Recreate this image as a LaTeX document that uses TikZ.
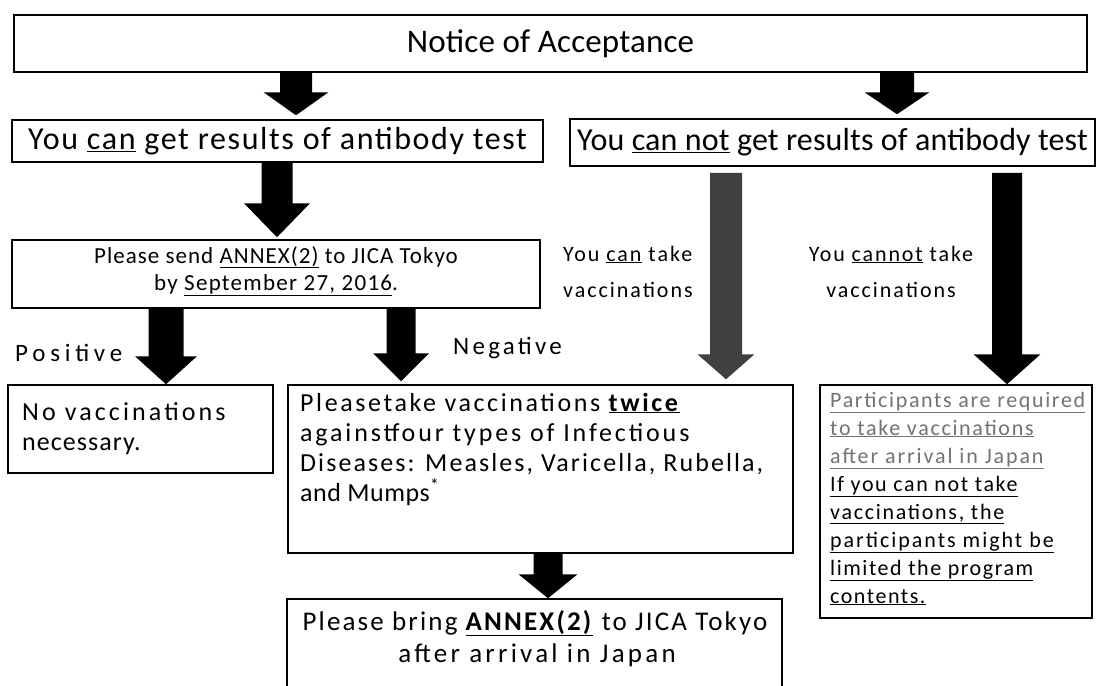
\documentclass[tikz,border=0pt]{standalone}
\usepackage{fontspec}
\setmainfont{Carlito}
\usetikzlibrary{calc}
\newcommand\ftx[3]{\fontsize{#1}{#1}\selectfont\addfontfeature{LetterSpace=#2}#3}
\newcommand\uln[1]{\underline{#1}}
\newcommand\barrow[6]{%
  \fill[#1] ($(#2)+(-#4,0)$) -- ($(#3)+(-#4,-#6)$) -- ($(#3)+(-#5,-#6)$) -- (#3)
    -- ($(#3)+(#5,-#6)$) -- ($(#3)+(#4,-#6)$) -- ($(#2)+(#4,0)$) -- cycle;}
\tikzset{
  pbox/.style={draw=black, line width=1.5pt, inner sep=0pt},
  lw/.style={anchor=base west, inner sep=0pt},
  lc/.style={anchor=base, inner sep=0pt},
}
\begin{document}
\begin{tikzpicture}[x=1pt,y=-1pt]
\useasboundingbox[fill=white] (0,0) rectangle (1097,685);
% boxes
\node[pbox, minimum width=1073, minimum height=57] (top) at (550.5,43.5)
  {\ftx{33}{0.5}{Notice of Acceptance}};
\node[pbox, minimum width=531, minimum height=42] (can) at (277.5,141)
  {\ftx{32}{5}{You \uln{can} get results of antibody test}};
\node[pbox, minimum width=525, minimum height=47] (cannot) at (832.5,142.5)
  {\ftx{32}{0.5}{You \uln{can not} get results of antibody test}};
\node[pbox, minimum width=528, minimum height=68] (send) at (276,274) {};
\node[pbox, minimum width=265, minimum height=88] (novac) at (140.5,429) {};
\node[pbox, minimum width=505, minimum height=168] (twice) at (540.5,469) {};
\node[pbox, minimum width=272, minimum height=233] (rbox) at (956,501.5) {};
\node[pbox, minimum width=495, minimum height=100] (bring) at (534.5,649) {};
% texts
\node[lc] (s1) at (276,263) {\ftx{23}{4.5}{Please send \uln{ANNEX(2)} to JICA Tokyo}};
\node[lc] (s2) at (276,290) {\ftx{23}{5.5}{by \uln{September 27, 2016}.}};
\node[lw] (pos) at (15,361) {\ftx{25}{19}{Positive}};
\node[lw] (neg) at (453,354) {\ftx{25}{13}{Negative}};
\node[lw] (n1) at (22,420) {\ftx{26}{12}{No vaccinations}};
\node[lw] (n2) at (22,450) {\ftx{26}{4}{necessary.}};
\node[lw] (t1) at (300,411) {\ftx{26}{10}{Pleasetake vaccinations \uln{\textbf{twice}}}};
\node[lw] (t2) at (300,441) {\ftx{26}{11}{againstfour types of Infectious}};
\node[lw] (t3) at (300,471) {\ftx{26}{8}{Diseases: Measles, Varicella, Rubella,}};
\node[lw] (t4) at (300,501) {\ftx{26}{2}{and Mumps\textsuperscript{*}}};
\node[lc] (b1) at (535,630) {\ftx{27}{8}{Please bring \uln{\textbf{ANNEX(2)}} to JICA Tokyo}};
\node[lc] (b2) at (537,662) {\ftx{27}{12}{after arrival in Japan}};
\node[lw] (ct1) at (563,261) {\ftx{22}{9}{You \uln{can} take}};
\node[lw] (ct2) at (563,297) {\ftx{22}{9}{vaccinations}};
\node[lc] (nt1) at (891,261) {\ftx{22}{8.5}{You \uln{cannot} take}};
\node[lc] (nt2) at (891,297) {\ftx{22}{9}{vaccinations}};
\begin{scope}[color=black!55]
\node[lw] (r1) at (830,407) {\ftx{22}{7.5}{\uln{Participants are required}}};
\node[lw] (r2) at (830,435) {\ftx{22}{7.7}{\uln{to take vaccinations}}};
\node[lw] (r3) at (830,463) {\ftx{22}{8.6}{\uln{after arrival in Japan}}};
\end{scope}
\node[lw] (r4) at (830,491) {\ftx{22}{7.4}{\uln{If you can not take}}};
\node[lw] (r5) at (830,519) {\ftx{22}{7.8}{\uln{vaccinations, the}}};
\node[lw] (r6) at (830,547) {\ftx{22}{9}{\uln{participants might be}}};
\node[lw] (r7) at (830,575) {\ftx{22}{7}{\uln{limited the program}}};
\node[lw] (r8) at (830,603) {\ftx{22}{7}{\uln{contents.}}};
% arrow axes
\coordinate (x1) at (296,0);
\coordinate (x2) at (897,0);
\coordinate (x3) at (277,0);
\coordinate (x4) at (166,0);
\coordinate (x5) at (401,0);
\coordinate (x6) at (726,0);
\coordinate (x7) at (1007,0);
\coordinate (x8) at (548,0);
\coordinate (a1s) at (top.south -| x1);    \coordinate (a1e) at ([yshift=4pt]can.north -| x1);
\coordinate (a2s) at (top.south -| x2);    \coordinate (a2e) at ([yshift=4pt]cannot.north -| x2);
\coordinate (a3s) at (can.south -| x3);    \coordinate (a3e) at ([yshift=2pt]send.north -| x3);
\coordinate (a4s) at (send.south -| x4);   \coordinate (a4e) at (novac.north -| x4);
\coordinate (a5s) at (send.south -| x5);   \coordinate (a5e) at ([yshift=3pt]twice.north -| x5);
\coordinate (a6s) at ([yshift=-6pt]cannot.south -| x6); \coordinate (a6e) at ([yshift=5pt]twice.north -| x6);
\coordinate (a7s) at ([yshift=-6pt]cannot.south -| x7); \coordinate (a7e) at (rbox.north -| x7);
\coordinate (a8s) at (twice.south -| x8);  \coordinate (a8e) at (bring.north -| x8);
\barrow{black}{a1s}{a1e}{16}{32.5}{23}
\barrow{black}{a2s}{a2e}{17}{32.5}{22}
\barrow{black}{a3s}{a3e}{15.5}{33}{34}
\barrow{black}{a4s}{a4e}{17.5}{31}{28}
\barrow{black}{a5s}{a5e}{14.5}{28}{28}
\barrow{black!75}{a6s}{a6e}{16}{28.5}{25}
\barrow{black}{a7s}{a7e}{15}{33.5}{30}
\barrow{black}{a8s}{a8e}{14.5}{29.5}{24}
\end{tikzpicture}
\end{document}
